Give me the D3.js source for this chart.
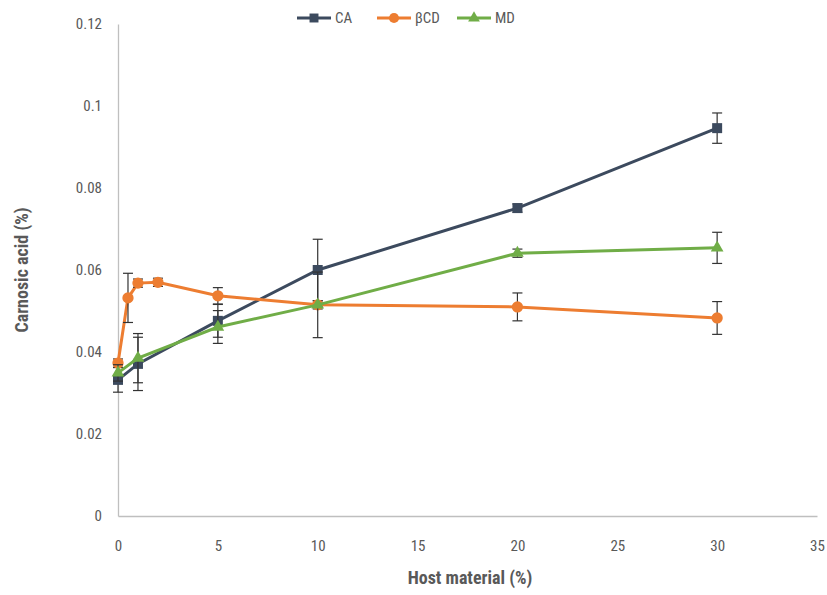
<!DOCTYPE html>
<html>
<head>
<meta charset="utf-8">
<script src="https://cdn.jsdelivr.net/npm/d3@7"></script>
<style>
  body { margin: 0; background: #fff; }
  text { font-family: "Liberation Sans Narrow", "Roboto Condensed", "Liberation Sans", sans-serif; fill: #595959; }
</style>
</head>
<body>
<svg id="chart" width="827" height="595"></svg>
<script>
// values
const caX   = [0, 1, 5, 10, 20, 30];
const caY   = [0.0332, 0.0371, 0.0476, 0.0600, 0.0751, 0.0946];
const caErr = [0.003, 0.0065, 0.004, 0.0075, 0.001, 0.0037];

const bcdX   = [0, 0.5, 1, 2, 5, 10, 20, 30];
const bcdY   = [0.0373, 0.0532, 0.0568, 0.0570, 0.0537, 0.0515, 0.0510, 0.0483];
const bcdErr = [0.001, 0.006, 0.001, 0.001, 0.002, 0.001, 0.0034, 0.004];

const mdX   = [0, 1, 5, 10, 20, 30];
const mdY   = [0.0349, 0.0385, 0.0461, 0.0515, 0.0641, 0.0654];
const mdErr = [0.002, 0.006, 0.004, 0.008, 0.001, 0.0038];

const xTicks = [0, 5, 10, 15, 20, 25, 30, 35];
const yTicks = [0, 0.02, 0.04, 0.06, 0.08, 0.1, 0.12];

const series = [
  { name: "CA",  xs: caX,  ys: caY,  err: caErr,  color: "#3c4a5e", shape: d3.symbolSquare },
  { name: "βCD", xs: bcdX, ys: bcdY, err: bcdErr, color: "#ed7d31", shape: d3.symbolCircle },
  { name: "MD",  xs: mdX,  ys: mdY,  err: mdErr,  color: "#70ad47", shape: d3.symbolTriangle }
];

const svg = d3.select("#chart");

const x = d3.scaleLinear().domain([0, 35]).range([118, 817]);
const y = d3.scaleLinear().domain([0, 0.12]).range([516, 24]);

// axes
const xAxis = svg.append("g")
  .attr("transform", `translate(0, ${y(0)})`)
  .call(d3.axisBottom(x).tickValues(xTicks).tickSize(0).tickPadding(24).tickFormat(d3.format("d")));
xAxis.select(".domain").attr("stroke", "#bfbfbf").attr("stroke-width", 1.3);
xAxis.selectAll("text").attr("font-size", 15).style("fill", "#595959");

const yAxis = svg.append("g")
  .attr("transform", `translate(${x(0)}, 0)`)
  .call(d3.axisLeft(y).tickValues(yTicks).tickSize(0).tickPadding(16).tickFormat(d => d === 0 ? "0" : d3.format("")(+d.toFixed(2))));
yAxis.select(".domain").attr("stroke", "#bfbfbf").attr("stroke-width", 1.3);
yAxis.selectAll("text").attr("font-size", 15).style("fill", "#595959");

// axis titles
svg.append("text")
  .attr("x", 470).attr("y", 584)
  .attr("text-anchor", "middle")
  .attr("font-size", 18).attr("font-weight", "bold")
  .text("Host material (%)");

svg.append("text")
  .attr("transform", "translate(28, 270) rotate(-90)")
  .attr("text-anchor", "middle")
  .attr("font-size", 18).attr("font-weight", "bold")
  .text("Carnosic acid (%)");

// lines, error bars, markers
series.forEach(s => {
  const pts = s.xs.map((v, i) => ({ x: v, y: s.ys[i], e: s.err[i] }));
  const g = svg.append("g");

  g.append("path")
    .datum(pts)
    .attr("fill", "none")
    .attr("stroke", s.color)
    .attr("stroke-width", 3)
    .attr("d", d3.line().x(d => x(d.x)).y(d => y(d.y)));

  const eb = g.selectAll(".eb").data(pts).enter().append("g");
  eb.append("line")
    .attr("x1", d => x(d.x)).attr("x2", d => x(d.x))
    .attr("y1", d => y(d.y + d.e)).attr("y2", d => y(d.y - d.e))
    .attr("stroke", "#333").attr("stroke-width", 1.2);
  [1, -1].forEach(sg => {
    eb.append("line")
      .attr("x1", d => x(d.x) - 5).attr("x2", d => x(d.x) + 5)
      .attr("y1", d => y(d.y + sg * d.e)).attr("y2", d => y(d.y + sg * d.e))
      .attr("stroke", "#333").attr("stroke-width", 1.2);
  });

  g.selectAll(".mk").data(pts).enter().append("path")
    .attr("transform", d => `translate(${x(d.x)}, ${y(d.y)})`)
    .attr("d", d3.symbol().type(s.shape).size(s.shape === d3.symbolTriangle ? 70 : 100))
    .attr("fill", s.color);
});

// legend
const legend = svg.append("g").attr("transform", "translate(297, 18)");
series.forEach((s, i) => {
  const lg = legend.append("g").attr("transform", `translate(${i * 80}, 0)`);
  lg.append("line").attr("x1", 0).attr("x2", 34).attr("stroke", s.color).attr("stroke-width", 3);
  lg.append("path")
    .attr("transform", "translate(17, 0)")
    .attr("d", d3.symbol().type(s.shape).size(s.shape === d3.symbolTriangle ? 60 : 80))
    .attr("fill", s.color);
  lg.append("text").attr("x", 38).attr("y", 5).attr("font-size", 15).text(s.name);
});
</script>
</body>
</html>
